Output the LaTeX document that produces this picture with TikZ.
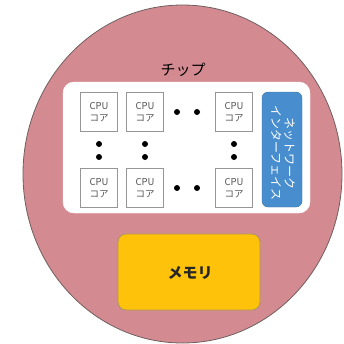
\documentclass[tikz,border=0pt]{standalone}
\usepackage{fontspec}
\newfontfamily\jp{Noto Sans CJK JP}
\definecolor{wafer}{RGB}{212,138,145}
\definecolor{waferedge}{RGB}{110,95,95}
\definecolor{netblue}{RGB}{72,142,206}
\definecolor{memgold}{RGB}{255,194,10}
\definecolor{memedge}{RGB}{170,150,90}
\definecolor{coreedge}{RGB}{150,150,150}
\definecolor{coretext}{RGB}{85,85,85}
\tikzset{
  core/.style={draw=coreedge, line width=0.7pt, fill=white, minimum width=37pt, minimum height=39pt, inner sep=0pt, align=center, font=\jp\fontsize{9.5}{12}\selectfont, text=coretext},
  dotm/.style={circle, fill=black, minimum size=6pt, inner sep=0pt},
}
\begin{document}
\begin{tikzpicture}[x=1pt,y=-1pt]
\useasboundingbox (0,0) rectangle (344,343);
\fill[white] (0,0) rectangle (344,343);
\begin{scope}
\clip (0,0) rectangle (344,343);
\draw[waferedge, line width=0.8pt, fill=wafer] (182.5,174) ellipse [x radius=159.5, y radius=169];
\end{scope}
\node[font=\jp\fontsize{15}{17}\selectfont] (chiplabel) at (183,70) {チップ};
\draw[white, fill=white, rounded corners=11pt] (63,82) rectangle (310,213);
\node[core] (c11) at (99,112) {CPU\\コア};
\node[core] (c12) at (145,112) {CPU\\コア};
\node[core] (c13) at (234,112) {CPU\\コア};
\node[core] (c21) at (99,188) {CPU\\コア};
\node[core] (c22) at (145,188) {CPU\\コア};
\node[core] (c23) at (234,188) {CPU\\コア};
\node[dotm] (h1a) at (177,112) {};
\node[dotm] (h1b) at (197,112) {};
\node[dotm] (h2a) at (177,188) {};
\node[dotm] (h2b) at (197,188) {};
\node[dotm] (v1a) at (99,144) {};
\node[dotm] (v1b) at (99,157) {};
\node[dotm] (v2a) at (145,144) {};
\node[dotm] (v2b) at (145,157) {};
\node[dotm] (v3a) at (234,144) {};
\node[dotm] (v3b) at (234,157) {};
\draw[fill=netblue, draw=netblue!80!black, line width=0.4pt, rounded corners=6pt] (262,92) rectangle (302,207);
\node[rotate=-90, text=white, align=center, font=\jp\fontsize{12}{13.5}\selectfont] (net) at (283,153) {ネットワーク\\インターフェイス};
\draw[fill=memgold, draw=memedge, line width=0.8pt, rounded corners=8pt] (118,234) rectangle (260,310);
\node[font=\jp\bfseries\fontsize{15}{17}\selectfont, text=black!85] (mem) at (190,273) {メモリ};
\end{tikzpicture}
\end{document}
